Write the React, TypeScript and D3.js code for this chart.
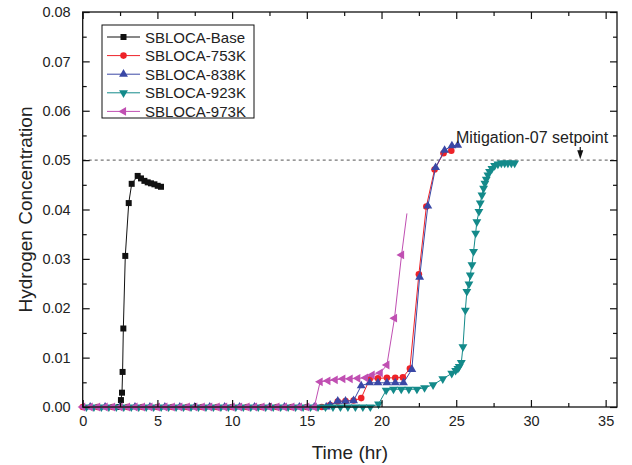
import React, { useEffect, useRef } from "react";
import * as d3 from "d3";

type Pt = [number, number];

const seriesNames = ["SBLOCA-Base", "SBLOCA-753K", "SBLOCA-838K", "SBLOCA-923K", "SBLOCA-973K"];
const seriesColors = ["#111111", "#ee2228", "#3a48a6", "#138a8a", "#c04fb2"];
const seriesShapes = ["square", "circle", "up", "down", "left"];

// time (hr), hydrogen concentration
const sbBase: Pt[] = [
  [2.45, 0], [2.56, 0.0014], [2.63, 0.0029], [2.67, 0.0071], [2.72, 0.0159], [2.85, 0.0306],
  [3.08, 0.0413], [3.28, 0.0452], [3.68, 0.0468], [3.9, 0.0463], [4.13, 0.0458], [4.35, 0.0455],
  [4.57, 0.0453], [4.8, 0.0451], [5.02, 0.0448], [5.24, 0.0446],
];

const sb753: Pt[] = [
  [0, 0], [1, 0], [2, 0], [3, 0], [4, 0], [5, 0], [6, 0], [7, 0], [8, 0], [9, 0], [10, 0],
  [11, 0], [12, 0], [13, 0], [14, 0], [15, 0], [16, 0], [16.56, 0.0004], [17.07, 0.0011],
  [17.59, 0.0012], [18.13, 0.0013], [18.64, 0.0018], [19.2, 0.0056], [19.76, 0.0058],
  [20.36, 0.0059], [20.92, 0.0059], [21.43, 0.006], [21.9, 0.0078], [22.5, 0.0269],
  [23.0, 0.0406], [23.55, 0.0481], [24.15, 0.0514], [24.67, 0.0519],
];

const sb838: Pt[] = [
  [0.5, 0], [1.5, 0], [2.5, 0], [3.5, 0], [4.5, 0], [5.5, 0], [6.5, 0], [7.5, 0], [8.5, 0],
  [9.5, 0], [10.5, 0], [11.5, 0], [12.5, 0], [13.5, 0], [14.5, 0], [15.5, 0], [16.3, 0],
  [16.56, 0.0004], [17.07, 0.0012], [17.59, 0.0012], [18.13, 0.0013], [18.64, 0.0043],
  [19.2, 0.0049], [19.76, 0.0049], [20.36, 0.0049], [20.92, 0.0049], [21.47, 0.0049],
  [22.03, 0.0076], [22.55, 0.0263], [23.1, 0.0407], [23.62, 0.0485], [24.22, 0.052],
  [24.71, 0.0529], [25.1, 0.053],
];

const sb923: Pt[] = [
  [0.25, 0], [0.75, 0], [1.25, 0], [1.75, 0], [2.25, 0], [2.75, 0], [3.25, 0], [3.75, 0],
  [4.25, 0], [4.75, 0], [5.25, 0], [5.75, 0], [6.25, 0], [6.75, 0], [7.25, 0], [7.75, 0],
  [8.25, 0], [8.75, 0], [9.25, 0], [9.75, 0], [10.25, 0], [10.75, 0], [11.25, 0], [11.75, 0],
  [12.25, 0], [12.75, 0], [13.25, 0], [13.75, 0], [14.25, 0], [14.75, 0], [15.25, 0],
  [15.75, 0], [16.25, 0], [16.75, 0], [17.25, 0], [17.75, 0], [18.25, 0], [18.75, 0],
  [19.25, 0], [19.8, 0.0006], [20.31, 0.0034], [20.8, 0.0036], [21.32, 0.0036],
  [21.83, 0.0036], [22.37, 0.0036], [22.88, 0.0039], [23.45, 0.0045], [24.1, 0.0057],
  [24.7, 0.0068], [24.96, 0.0074], [25.11, 0.0078], [25.2, 0.0082], [25.34, 0.009],
  [25.45, 0.0122], [25.61, 0.0196], [25.71, 0.0234], [25.85, 0.0249], [25.94, 0.0267],
  [26.05, 0.0288], [26.16, 0.0315], [26.3, 0.0352], [26.38, 0.0375], [26.52, 0.0396],
  [26.61, 0.0413], [26.72, 0.0429], [26.83, 0.0443], [26.92, 0.0453], [27.01, 0.0461],
  [27.12, 0.047], [27.23, 0.0477], [27.39, 0.0483], [27.57, 0.0489], [27.79, 0.0492],
  [28.02, 0.0494], [28.24, 0.0494], [28.46, 0.0494], [28.69, 0.0494], [28.91, 0.0494],
];

const sb973: Pt[] = [
  [0, 0], [0.5, 0], [1, 0], [1.5, 0], [2, 0], [2.5, 0], [3, 0], [3.5, 0], [4, 0], [4.5, 0],
  [5, 0], [5.5, 0], [6, 0], [6.5, 0], [7, 0], [7.5, 0], [8, 0], [8.5, 0], [9, 0], [9.5, 0],
  [10, 0], [10.5, 0], [11, 0], [11.5, 0], [12, 0], [12.5, 0], [13, 0], [13.5, 0], [14, 0],
  [14.5, 0], [15, 0], [15.5, 0], [15.89, 0.0051], [16.41, 0.0053], [16.9, 0.0055],
  [17.41, 0.0057], [17.9, 0.0057], [18.41, 0.0058], [18.93, 0.0059], [19.37, 0.0065],
  [19.91, 0.0069], [20.36, 0.0085], [20.87, 0.018], [21.34, 0.0308],
];
// line keeps going past the last marker
const tail973: Pt[] = [[21.7, 0.0392]];

const seriesData = [sbBase, sb753, sb838, sb923, sb973];

const xTicks = [0, 5, 10, 15, 20, 25, 30, 35];
const yTicks = [0, 0.01, 0.02, 0.03, 0.04, 0.05, 0.06, 0.07, 0.08];
const setpoint = 0.05;
const setpointLabel = "Mitigation-07 setpoint";
const arrowTime = 33.3;

const FONT = "'Liberation Sans', Arial, sans-serif";

const symbolFor = (shape: string) => {
  if (shape === "square") return d3.symbol(d3.symbolSquare, 36)();
  if (shape === "circle") return d3.symbol(d3.symbolCircle, 34)();
  return d3.symbol(d3.symbolTriangle, 34)();
};
const rotFor = (shape: string) =>
  shape === "down" ? 180 : shape === "left" ? -90 : 0;

const App = () => {
  const svgRef = useRef<SVGSVGElement>(null);

  useEffect(() => {
    const width = 632;
    const height = 465;
    const left = 82.7, right = 617, top = 12, bottom = 407;

    const svg = d3.select(svgRef.current).attr("width", width).attr("height", height);
    svg.selectAll("*").remove();

    const x = d3.scaleLinear().domain([0, 35.76]).range([left, right]);
    const y = d3.scaleLinear().domain([0, 0.08]).range([bottom, top]);

    svg.append("rect").attr("width", width).attr("height", height).attr("fill", "#fff");

    // setpoint line
    svg
      .append("line")
      .attr("x1", left)
      .attr("x2", right)
      .attr("y1", y(setpoint))
      .attr("y2", y(setpoint))
      .attr("stroke", "#777")
      .attr("stroke-width", 1.2)
      .attr("stroke-dasharray", "3,3");

    const line = d3
      .line<Pt>()
      .x((d) => x(d[0]))
      .y((d) => y(d[1]));

    seriesData.forEach((data, i) => {
      const pts = i === 4 ? data.concat(tail973) : data;
      svg
        .append("path")
        .attr("d", line(pts))
        .attr("fill", "none")
        .attr("stroke", seriesColors[i])
        .attr("stroke-width", 1);
      svg
        .append("g")
        .selectAll("path")
        .data(data)
        .enter()
        .append("path")
        .attr("d", symbolFor(seriesShapes[i]))
        .attr("transform", (d) => `translate(${x(d[0])},${y(d[1])}) rotate(${rotFor(seriesShapes[i])})`)
        .attr("fill", seriesColors[i]);
    });

    // frame
    svg
      .append("rect")
      .attr("x", left)
      .attr("y", top)
      .attr("width", right - left)
      .attr("height", bottom - top)
      .attr("fill", "none")
      .attr("stroke", "#111")
      .attr("stroke-width", 1.3);

    const xMinor = d3.range(2.5, 35.76, 5);
    const yMinor = d3.range(0.005, 0.08, 0.01);

    const drawAxis = (axis: any, tf: string, labels: boolean) => {
      const g = svg.append("g").attr("transform", tf).call(axis);
      g.select(".domain").remove();
      g.selectAll("line").attr("stroke", "#111").attr("stroke-width", 1.2);
      g.selectAll("text")
        .attr("font-family", FONT)
        .attr("font-size", 14.5)
        .attr("fill", "#222");
      if (!labels) g.selectAll("text").remove();
      return g;
    };

    drawAxis(
      d3.axisBottom(x).tickValues(xTicks).tickSize(-7).tickPadding(9).tickFormat(d3.format("d")),
      `translate(0,${bottom})`,
      true
    );
    drawAxis(d3.axisBottom(x).tickValues(xMinor).tickSize(-4), `translate(0,${bottom})`, false);
    drawAxis(d3.axisTop(x).tickValues(xTicks).tickSize(-7), `translate(0,${top})`, false);
    drawAxis(d3.axisTop(x).tickValues(xMinor).tickSize(-4), `translate(0,${top})`, false);
    drawAxis(
      d3.axisLeft(y).tickValues(yTicks).tickSize(-7).tickPadding(12).tickFormat(d3.format(".2f")),
      `translate(${left},0)`,
      true
    );
    drawAxis(d3.axisLeft(y).tickValues(yMinor).tickSize(-4), `translate(${left},0)`, false);
    drawAxis(d3.axisRight(y).tickValues(yTicks).tickSize(-7), `translate(${right},0)`, false);
    drawAxis(d3.axisRight(y).tickValues(yMinor).tickSize(-4), `translate(${right},0)`, false);

    // axis titles
    svg
      .append("text")
      .attr("x", (left + right) / 2)
      .attr("y", 459)
      .attr("text-anchor", "middle")
      .attr("font-family", FONT)
      .attr("font-size", 19)
      .attr("fill", "#222")
      .text("Time (hr)");
    svg
      .append("text")
      .attr("transform", `translate(32,${(top + bottom) / 2}) rotate(-90)`)
      .attr("text-anchor", "middle")
      .attr("font-family", FONT)
      .attr("font-size", 19)
      .attr("fill", "#222")
      .text("Hydrogen Concentration");

    // annotation
    svg
      .append("text")
      .attr("x", 456)
      .attr("y", 143)
      .attr("font-family", FONT)
      .attr("font-size", 16)
      .attr("fill", "#222")
      .text(setpointLabel);
    const ax = x(arrowTime);
    svg
      .append("line")
      .attr("x1", ax)
      .attr("x2", ax)
      .attr("y1", 147)
      .attr("y2", y(setpoint) - 6)
      .attr("stroke", "#111")
      .attr("stroke-width", 1.2);
    svg
      .append("path")
      .attr("d", `M${ax - 3},${y(setpoint) - 10} L${ax + 3},${y(setpoint) - 10} L${ax},${y(setpoint) - 1} Z`)
      .attr("fill", "#111");

    // legend
    const lg = svg.append("g");
    lg.append("rect")
      .attr("x", 102)
      .attr("y", 25)
      .attr("width", 152)
      .attr("height", 93)
      .attr("fill", "#fff")
      .attr("stroke", "#111")
      .attr("stroke-width", 1);
    seriesNames.forEach((name, i) => {
      const ry = 37 + i * 18.6;
      lg.append("line")
        .attr("x1", 107)
        .attr("x2", 140)
        .attr("y1", ry)
        .attr("y2", ry)
        .attr("stroke", seriesColors[i])
        .attr("stroke-width", 1);
      lg.append("path")
        .attr("d", symbolFor(seriesShapes[i]))
        .attr("transform", `translate(123.5,${ry}) rotate(${rotFor(seriesShapes[i])})`)
        .attr("fill", seriesColors[i]);
      lg.append("text")
        .attr("x", 145)
        .attr("y", ry + 5.5)
        .attr("font-family", FONT)
        .attr("font-size", 15)
        .attr("fill", "#222")
        .text(name);
    });
  }, []);

  return (
    <div style={{ position: "absolute", left: 0, top: 0 }}>
      <svg ref={svgRef}></svg>
    </div>
  );
};

export default App;
